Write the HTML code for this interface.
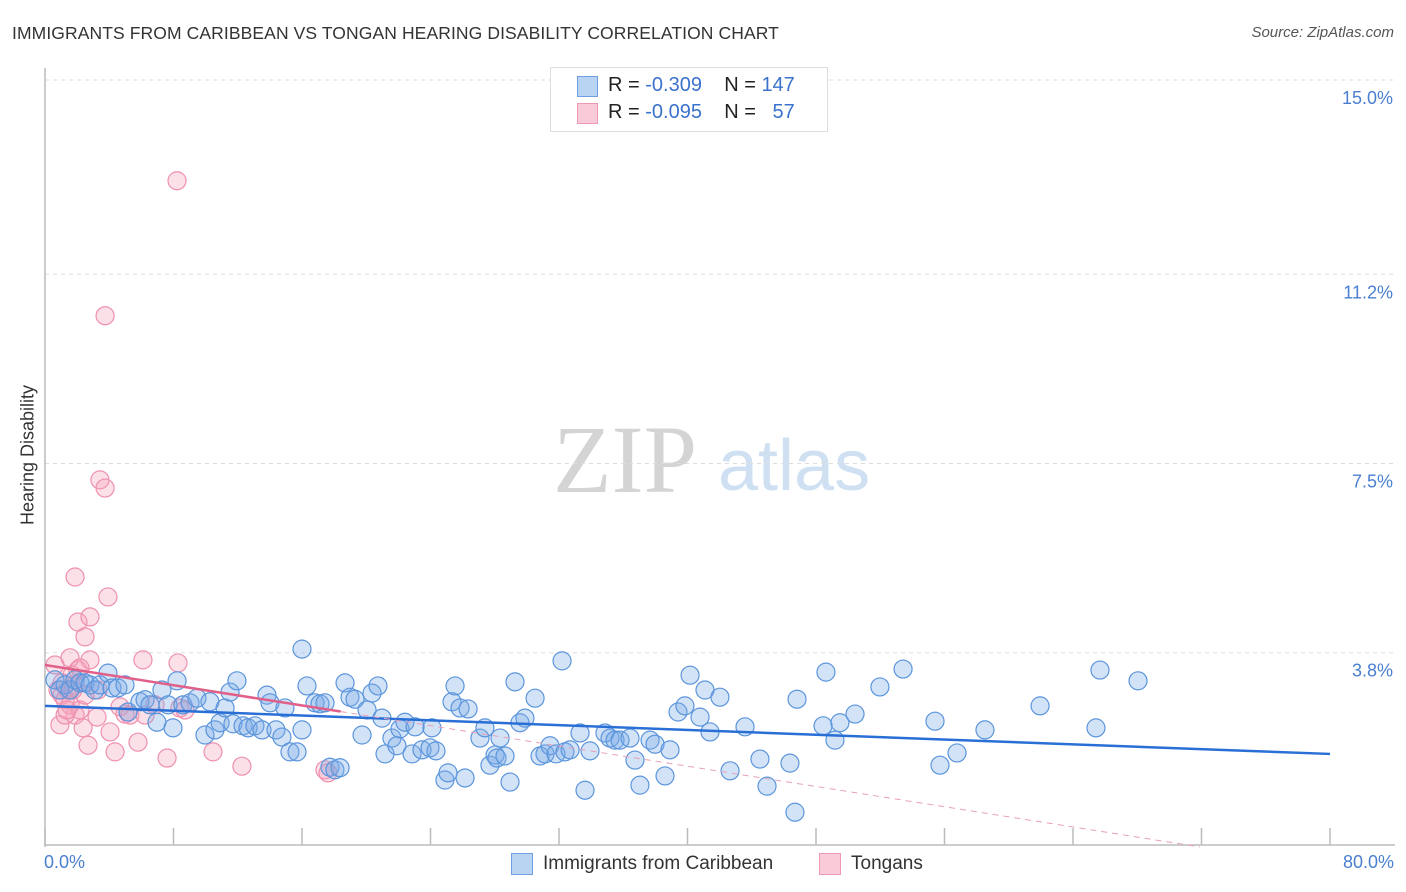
<!DOCTYPE html>
<html><head><meta charset="utf-8"><style>
body{margin:0;background:#fff;font-family:"Liberation Sans",sans-serif;}
#wrap{position:relative;width:1406px;height:892px;overflow:hidden}
.t{position:absolute;white-space:nowrap}
</style></head><body><div id="wrap">
<div class="t" style="left:12px;top:23px;font-size:17.5px;color:#333;letter-spacing:0.1px">IMMIGRANTS FROM CARIBBEAN VS TONGAN HEARING DISABILITY CORRELATION CHART</div>
<div class="t" style="right:12px;top:24px;font-size:15px;color:#555;font-style:italic">Source: ZipAtlas.com</div>
<svg id="svg" width="1406" height="892" style="position:absolute;left:0;top:0"></svg>
</div>
<script>
const xTicks=[0,8,16,24,32,40,48,56,64,72,80];
const yTicks=[3.8,7.5,11.2,15.0];
const yTickLabels=["3.8%","7.5%","11.2%","15.0%"];
const blueX=[.62,.93,1.25,1.56,1.87,2.18,2.49,2.8,3.11,3.42,3.92,4.17,4.54,4.98,5.17,5.91,6.23,6.54,6.97,7.28,7.66,7.97,8.22,8.59,9.03,9.46,9.96,10.27,10.58,10.9,11.21,11.52,11.7,11.95,12.33,12.64,13.07,13.51,13.82,14.01,14.38,14.75,14.94,15.25,15.69,16,16.31,16.81,17.12,17.43,16,17.74,18.05,18.37,18.68,18.99,19.3,19.74,20.05,20.36,20.73,20.98,21.17,21.6,21.91,22.1,22.41,22.85,23.04,23.47,23.97,24.09,24.34,24.9,25.09,25.34,25.53,25.84,26.15,26.34,27.08,27.39,27.7,28.02,28.14,28.33,28.64,28.95,29.26,29.57,29.88,30.51,30.82,31.13,31.44,31.81,32.19,32.37,32.69,33.31,33.62,33.93,34.86,35.18,35.49,35.8,36.42,36.73,37.04,37.67,37.98,38.6,38.91,39.41,39.84,40.16,40.78,41.09,41.4,42.02,42.65,43.58,44.51,44.95,46.38,46.69,46.82,48.44,48.62,49.18,49.49,50.43,51.98,53.42,55.41,55.72,56.78,58.52,61.95,65.43,65.68,68.05];
const blueY=[3.27,3.07,3.17,3.07,3.27,3.21,3.21,3.17,3.07,3.17,3.4,3.11,3.11,3.17,2.64,2.84,2.88,2.78,2.44,3.07,2.78,2.33,3.25,2.78,2.82,2.91,2.19,2.84,2.29,2.43,2.72,3.03,2.41,3.25,2.37,2.33,2.37,2.29,2.97,2.82,2.29,2.15,2.72,1.86,1.86,2.29,3.15,2.82,2.8,2.82,3.87,1.56,1.51,1.55,3.21,2.93,2.89,2.19,2.68,3.01,3.15,2.52,1.82,2.13,1.98,2.31,2.44,1.82,2.35,1.9,1.94,2.33,1.88,1.31,1.45,2.84,3.15,2.72,1.35,2.7,2.13,2.33,1.6,1.8,1.74,2.13,1.78,1.27,3.23,2.43,2.52,2.91,1.78,1.82,1.98,1.82,3.64,1.86,1.9,2.23,1.11,1.88,2.23,2.13,2.09,2.09,2.13,1.7,1.21,2.09,2.01,1.39,1.9,2.64,2.76,3.36,2.54,3.07,2.25,2.93,1.49,2.35,1.72,1.19,1.64,.68,2.89,2.37,3.42,2.09,2.43,2.6,3.13,3.48,2.46,1.6,1.84,2.29,2.76,2.33,3.46,3.25];
const pinkX=[.62,.81,1.06,1.25,1.43,1.56,1.68,1.87,1.87,2.05,2.18,2.49,2.8,.93,1.25,1.56,1.87,2.05,2.49,2.8,3.3,3.42,3.74,3.92,2.37,2.68,3.24,4.05,4.36,4.67,4.98,5.29,5.79,6.1,6.23,6.85,7.6,8.28,8.4,8.72,10.46,12.26,17.43,17.62,3.74,8.22,1.06,1.37,2.18,1.74];
const pinkY=[3.56,3.07,2.97,2.88,3.07,2.78,3.36,3.17,2.58,3.46,2.68,2.97,3.66,2.39,2.58,3.7,5.28,4.4,4.11,4.5,3.07,7.18,7.02,4.89,2.33,1.99,2.54,2.25,1.86,2.74,2.6,2.58,2.05,3.66,2.58,2.78,1.74,3.6,2.72,2.68,1.86,1.58,1.51,1.45,10.39,13.03,3.21,2.68,3.5,3.07];
const blueTrend=[2.76,1.82];   // value at x=0, x=80
const pinkTrend=[3.56,-0.4];   // value at x=0, x=80
const pinkSolidEnd=18.4, pinkDashEnd=71.9;

const L=45,R=1330,B=847,T=80;
const sx=v=>L+(v/80)*(R-L);
const sy=v=>B-(v/15)*(B-T);
const svg=document.getElementById('svg');
const NS='http://www.w3.org/2000/svg';
function mk(tag,attrs){const e=document.createElementNS(NS,tag);for(const k in attrs)e.setAttribute(k,attrs[k]);svg.appendChild(e);return e;}
let w=mk('text',{x:553,y:492,'font-size':96,fill:'#d4d4d4','font-family':'Liberation Serif, serif'});w.textContent='ZIP';


let w2=mk('text',{x:718,y:490,'font-size':72,fill:'#cfe0f3','font-family':'Liberation Sans, sans-serif'});w2.textContent='atlas';


yTicks.forEach((v,i)=>{
 const g=mk('line',{x1:L,x2:1395,y1:sy(v),y2:sy(v),stroke:'#ddd','stroke-dasharray':'4,4'});
 
 
 const t=mk('text',{x:1393,y:sy(v)+24,'text-anchor':'end','font-size':18,fill:'#4a7fd0','font-family':'Liberation Sans, sans-serif'});
 t.textContent=yTickLabels[i];
 
 
});
let ax=mk('line',{x1:L,x2:L,y1:68,y2:B,stroke:'#bbb','stroke-width':1.5});


let bx=mk('line',{x1:L,x2:1395,y1:845,y2:845,stroke:'#bbb','stroke-width':1.5});


xTicks.forEach(v=>{const t=mk('line',{x1:sx(v),x2:sx(v),y1:828,y2:845,stroke:'#bbb','stroke-width':1.5});
 
 });
function pts(xs,ys,fill,stroke,name){xs.forEach((x,i)=>{const c=mk('circle',{cx:sx(x),cy:sy(ys[i]),r:9,fill:fill,stroke:stroke,'stroke-width':1.2});
 
 });}
pts(pinkX,pinkY,'rgba(245,160,185,0.33)','#ee90ae','tongan-point');
pts(blueX,blueY,'rgba(120,170,230,0.33)','#5b95dc','caribbean-point');
const bf=v=>blueTrend[0]+(blueTrend[1]-blueTrend[0])*v/80;
const pf=v=>pinkTrend[0]+(pinkTrend[1]-pinkTrend[0])*v/80;
let l1=mk('line',{x1:sx(0),y1:sy(bf(0)),x2:sx(80),y2:sy(bf(80)),stroke:'#2a6fd6','stroke-width':2.5});


let l2=mk('line',{x1:sx(0),y1:sy(pf(0)),x2:sx(pinkSolidEnd),y2:sy(pf(pinkSolidEnd)),stroke:'#e0608a','stroke-width':2.5});


let l3=mk('line',{x1:sx(pinkSolidEnd),y1:sy(pf(pinkSolidEnd)),x2:sx(pinkDashEnd),y2:sy(pf(pinkDashEnd)),stroke:'#e8a0b8','stroke-width':1,'stroke-dasharray':'6,5'});


</script>
<div class="t" style="left:550px;top:67px;width:276px;height:63px;border:1px solid #ddd;background:#fff"></div>
<div class="t" style="left:577px;top:76px;width:19px;height:19px;background:#b9d3f3;border:1px solid #6f9fe0"></div>
<div class="t" style="left:577px;top:103px;width:19px;height:19px;background:#f9cad8;border:1px solid #ee9ab4"></div>
<div class="t" style="left:608px;top:74px;font-size:20px;color:#222">R = <span style="color:#3a72cc">-0.309</span>&nbsp;&nbsp;&nbsp; N = <span style="color:#3a72cc">147</span></div>
<div class="t" style="left:608px;top:101px;font-size:20px;color:#222">R = <span style="color:#3a72cc">-0.095</span>&nbsp;&nbsp;&nbsp; N = &nbsp;&nbsp;<span style="color:#3a72cc">57</span></div>
<div class="t" style="top:455px;font-size:18px;color:#333;transform:translate(-50%,-50%) rotate(-90deg);left:28px">Hearing Disability</div>
<div class="t" style="left:44px;top:852px;font-size:18px;color:#4a7fd0">0.0%</div>
<div class="t" style="right:12px;top:852px;font-size:18px;color:#4a7fd0">80.0%</div>
<div class="t" style="left:511px;top:853px;width:20px;height:20px;background:#b9d3f3;border:1px solid #6f9fe0"></div>
<div class="t" style="left:543px;top:853px;font-size:19px;color:#333">Immigrants from Caribbean</div>
<div class="t" style="left:819px;top:853px;width:20px;height:20px;background:#f9cad8;border:1px solid #ee9ab4"></div>
<div class="t" style="left:851px;top:853px;font-size:19px;color:#333">Tongans</div>
</body></html>
